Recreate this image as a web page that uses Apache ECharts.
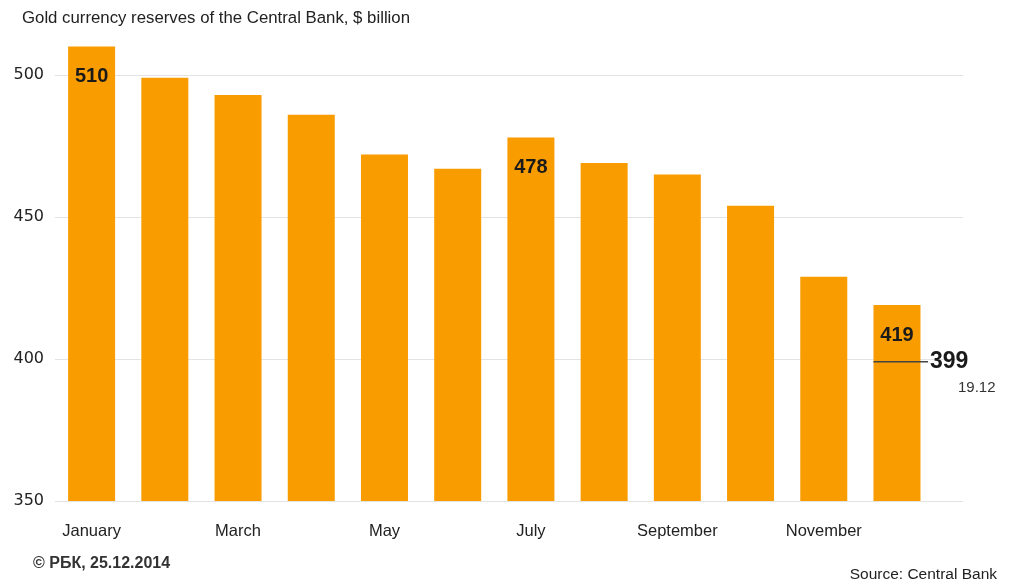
<!DOCTYPE html>
<html>
<head>
<meta charset="utf-8">
<script src="https://cdn.jsdelivr.net/npm/echarts@6/dist/echarts.min.js"></script>
<style>
html,body{margin:0;padding:0;background:#fff;}
#chart{width:1011px;height:580px;}
</style>
</head>
<body>
<div id="chart"></div>
<script>
const months = ['January','February','March','April','May','June','July','August','September','October','November','December'];
const reserves = [510, 499, 493, 486, 472, 467, 478, 469, 465, 454, 429, 419];
const labelledMonths = ['January','July','December'];
const yTicks = [350, 400, 450, 500];
const markerMonth = 'December';
const markerValue = 399;
const markerDate = '19.12';

const TEXT = 'Liberation Sans, Arial, Helvetica, sans-serif';
const chart = echarts.init(document.getElementById('chart'), null, {renderer:'canvas'});

const barData = reserves.map((v, i) => ({
  value: v,
  label: { show: labelledMonths.includes(months[i]) }
}));

chart.setOption({
  animation: false,
  backgroundColor: '#fff',
  title: [
    { text: 'Gold currency reserves of the Central Bank, $ billion', left: 22, top: 10, padding: 0,
      textStyle: { fontFamily: TEXT, fontSize: 16.8, fontWeight: 'normal', color: '#222' } },
    { text: '© РБК, 25.12.2014', left: 33, top: 556, padding: 0,
      textStyle: { fontFamily: TEXT, fontSize: 16, fontWeight: 'bold', color: '#333' } },
    { text: 'Source: Central Bank', right: 14, top: 567, padding: 0,
      textStyle: { fontFamily: TEXT, fontSize: 15.5, fontWeight: 'normal', color: '#222' } }
  ],
  grid: [
    { left: 55, right: 77.4, top: 46.6, bottom: 79 },
    { left: 55, right: 48, top: 46.6, bottom: 79 }
  ],
  xAxis: [
    { type: 'category', gridIndex: 0, data: months,
      axisLine: { show: false }, axisTick: { show: false },
      axisLabel: { interval: 1, margin: 22, fontFamily: TEXT, fontSize: 16.5, color: '#222' } },
    { type: 'value', gridIndex: 1, min: 0, max: 1, show: false }
  ],
  yAxis: [
    { type: 'value', gridIndex: 0, min: 350, max: 510, show: false },
    { type: 'value', gridIndex: 1, min: yTicks[0], max: 510, interval: 50,
      axisLine: { show: false }, axisTick: { show: false },
      splitLine: { show: true, showMaxLine: false, lineStyle: { color: '#e3e3e3', width: 1 } },
      axisLabel: { showMaxLabel: false, margin: 11, fontFamily: 'DejaVu Sans, sans-serif', fontSize: 16, color: '#222' } }
  ],
  series: [
    { type: 'bar', xAxisIndex: 0, yAxisIndex: 0, data: barData, barWidth: 47,
      itemStyle: { color: '#F99C00' },
      label: { position: 'insideTop', distance: 20, fontFamily: TEXT, fontSize: 20,
               fontWeight: 'bold', color: '#1a1a1a' },
      z: 2 },
    { type: 'custom', xAxisIndex: 0, yAxisIndex: 0, z: 5,
      data: [[months.indexOf(markerMonth), markerValue]],
      renderItem: function (params, api) {
        const p = api.coord([api.value(0), api.value(1)]);
        return { type: 'group', children: [
          { type: 'line', shape: { x1: p[0] - 23.5, y1: p[1], x2: p[0] + 31, y2: p[1] },
            style: { stroke: '#444', lineWidth: 1.5 } },
          { type: 'text', x: p[0] + 33, y: p[1], style: { text: String(api.value(1)),
            font: 'bold 23px ' + TEXT, fill: '#1a1a1a', textVerticalAlign: 'middle' } },
          { type: 'text', x: p[0] + 61, y: p[1] + 26, style: { text: markerDate,
            font: '15px ' + TEXT, fill: '#333', textVerticalAlign: 'middle' } }
        ]};
      } }
  ]
});
</script>
</body>
</html>
